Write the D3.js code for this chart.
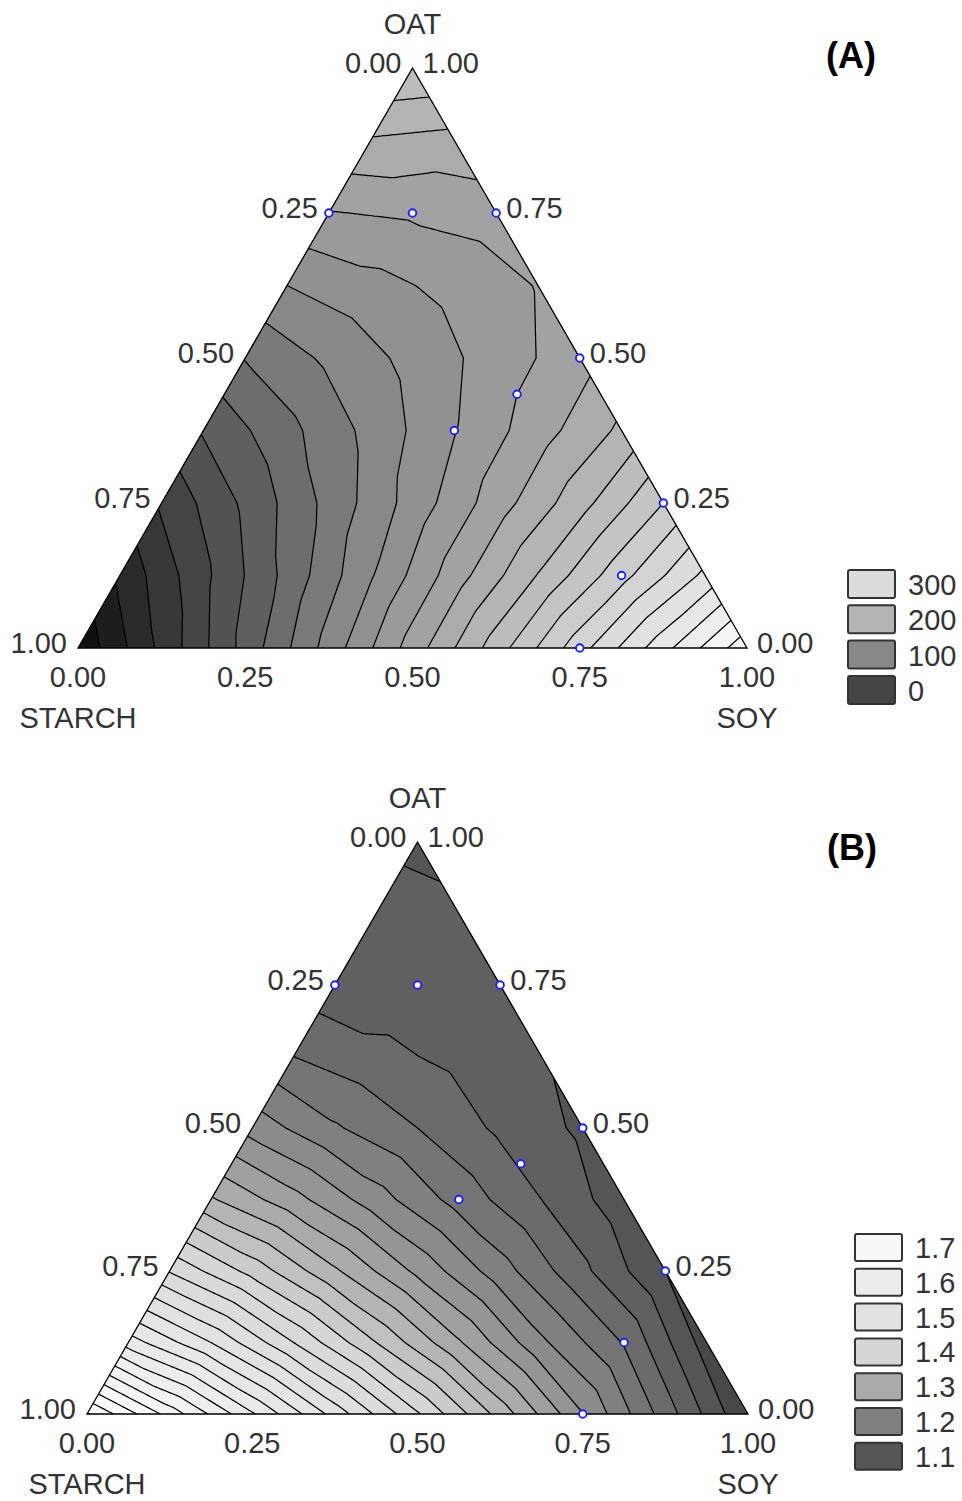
<!DOCTYPE html>
<html>
<head>
<meta charset="utf-8">
<script src="https://cdn.jsdelivr.net/npm/d3@7"></script>
<style>
  body { margin: 0; background: #fff; }
  svg text { font-family: "Liberation Sans", Arial, sans-serif; }
</style>
</head>
<body>
<div id="chart"></div>
<script>
// tick positions and labels on each side of the triangles
const tickFractions = [0, 0.25, 0.5, 0.75, 1];
const tickText = ["0.00", "0.25", "0.50", "0.75", "1.00"];

// mixture design points (same in both panels)
const designStarch = [0.25, 0.125, 0, 0, 0.125, 0.25, 0, 0.125, 0.25];
const designOat    = [0.75, 0.75, 0.75, 0.5, 0.4375, 0.375, 0.25, 0.125, 0];
const designSoy    = [0, 0.125, 0.25, 0.5, 0.4375, 0.375, 0.75, 0.75, 0.75];

// response surface on a lattice of step 1/8
// one row per oat share (0 -> 1), columns = soy share from 0 upward
const gridA = [
  [-76, -15, 47, 108, 169, 230, 292, 353, 414],
  [-36, 15, 66, 118, 170, 221, 273, 325],
  [3, 44, 86, 128, 170, 212, 260],
  [42, 74, 106, 139, 171, 204],
  [81, 104, 126, 149, 172],
  [120, 133, 146, 161],
  [159, 163, 169],
  [198, 193],
  [238]
];
const gridB = [
  [1.778, 1.690, 1.603, 1.515, 1.428, 1.340, 1.251, 1.163, 1.076],
  [1.588, 1.525, 1.450, 1.375, 1.303, 1.230, 1.173, 1.088],
  [1.448, 1.391, 1.329, 1.269, 1.211, 1.156, 1.100],
  [1.328, 1.284, 1.236, 1.190, 1.150, 1.110],
  [1.240, 1.203, 1.175, 1.145, 1.120],
  [1.175, 1.1575, 1.143, 1.127],
  [1.134, 1.1325, 1.135],
  [1.135, 1.129],
  [1.120]
];

// contour levels
const levelsA = d3.range(-3, 21).map(k => k * 20);
const levelsB = d3.range(44, 72).map(k => k * 0.025);

// legend entries
const legendA = [300, 200, 100, 0];
const legendB = [1.7, 1.6, 1.5, 1.4, 1.3, 1.2, 1.1];

const shadeA = d3.scaleLinear()
    .domain([-80, 0, 100, 200, 300, 400])
    .range([16, 68, 136, 180, 220, 250])
    .clamp(true);
const shadeB = d3.scaleLinear()
    .domain([1.075, 1.1, 1.2, 1.3, 1.4, 1.5, 1.6, 1.7, 1.775])
    .range([72, 85, 128, 170, 214, 226, 236, 248, 252])
    .clamp(true);

function grey(v) {
  const g = Math.round(v);
  return d3.rgb(g, g, g).formatHex();
}

// linear interpolation inside the lattice triangles
function fieldAt(grid, a, b) {
  const n = grid.length - 1;
  a = Math.max(0, a);
  b = Math.max(0, b);
  if (a + b > n) { const f = n / (a + b) * (1 - 1e-9); a *= f; b *= f; }
  const i = Math.min(Math.floor(a), n - 1);
  const k = Math.min(Math.floor(b), n - 1 - i);
  const fa = a - i, fb = b - k;
  if (fa + fb <= 1 || i + k >= n - 1) {
    return grid[i][k] * (1 - fa - fb) + grid[i + 1][k] * fa + grid[i][k + 1] * fb;
  }
  return grid[i + 1][k + 1] * (fa + fb - 1) + grid[i + 1][k] * (1 - fb) + grid[i][k + 1] * (1 - fa);
}

const svg = d3.select('#chart')
    .append('svg')
    .attr('width', 962)
    .attr('height', 1501);

const defs = svg.append('defs');

function drawPanel(p) {
  const g = svg.append('g');

  // x follows soy + oat/2, y follows oat
  const xs = d3.scaleLinear().domain([0, 1]).range([p.left, p.right]);
  const ys = d3.scaleLinear().domain([0, 1]).range([p.base, p.top]);
  const pos = (oat, soy) => [xs(soy + oat / 2), ys(oat)];

  // sample the surface on a pixel grid
  const n = p.grid.length - 1;
  const res = 2, pad = 4;
  const x0 = p.left - pad, y0 = p.top - pad;
  const nx = Math.ceil((p.right - p.left + 2 * pad) / res) + 1;
  const ny = Math.ceil((p.base - p.top + 2 * pad) / res) + 1;
  const values = new Float64Array(nx * ny);
  for (let j = 0; j < ny; j++) {
    const oat = ys.invert(y0 + j * res);
    for (let i = 0; i < nx; i++) {
      const soy = xs.invert(x0 + i * res) - oat / 2;
      values[j * nx + i] = fieldAt(p.grid, oat * n, soy * n);
    }
  }
  const contours = d3.contours().size([nx, ny]).thresholds(p.levels)(values);
  const path = d3.geoPath(d3.geoIdentity().scale(res).translate([x0 - res / 2, y0 - res / 2]));

  const tri = [pos(0, 0), pos(1, 0), pos(0, 1)];
  defs.append('clipPath').attr('id', 'clip' + p.name)
    .append('polygon').attr('points', tri.join(' '));

  const body = g.append('g').attr('clip-path', 'url(#clip' + p.name + ')');
  body.append('polygon')
      .attr('points', tri.join(' '))
      .attr('fill', grey(p.shade(p.floor)));
  body.selectAll('path.band')
    .data(contours)
    .join('path')
      .attr('class', 'band')
      .attr('d', path)
      .attr('fill', d => grey(p.shade(d.value)));
  body.selectAll('path.line')
    .data(contours)
    .join('path')
      .attr('class', 'line')
      .attr('d', path)
      .attr('fill', 'none')
      .attr('stroke', '#000')
      .attr('stroke-width', 1.25);

  g.append('polygon')
      .attr('points', tri.join(' '))
      .attr('fill', 'none')
      .attr('stroke', '#000')
      .attr('stroke-width', 1.3);

  // design points
  g.selectAll('circle')
    .data(designOat.map((o, i) => ({ starch: designStarch[i], oat: o, soy: designSoy[i] })))
    .join('circle')
      .attr('cx', d => pos(d.oat, d.soy)[0])
      .attr('cy', d => pos(d.oat, d.soy)[1])
      .attr('r', 3.8)
      .attr('fill', '#fff')
      .attr('stroke', '#2020ff')
      .attr('stroke-width', 1.9);

  const txt = g.append('g').attr('fill', '#333').style('font-size', '29px');
  // left side: starch share (1 at bottom)
  txt.selectAll('text.left')
    .data(tickFractions)
    .join('text')
      .attr('class', 'left')
      .attr('x', f => pos(1 - f, 0)[0] - 11)
      .attr('y', f => pos(1 - f, 0)[1] + 5)
      .attr('text-anchor', 'end')
      .text((f, i) => tickText[i]);
  // right side: oat share
  txt.selectAll('text.right')
    .data(tickFractions)
    .join('text')
      .attr('class', 'right')
      .attr('x', f => pos(f, 1 - f)[0] + 10)
      .attr('y', f => pos(f, 1 - f)[1] + 5)
      .text((f, i) => tickText[i]);
  // bottom: soy share
  txt.selectAll('text.bottom')
    .data(tickFractions)
    .join('text')
      .attr('class', 'bottom')
      .attr('x', f => pos(0, f)[0])
      .attr('y', p.base + 39)
      .attr('text-anchor', 'middle')
      .text((f, i) => tickText[i]);

  txt.append('text').attr('x', tri[1][0]).attr('y', p.top - 34)
      .attr('text-anchor', 'middle').text('OAT');
  txt.append('text').attr('x', tri[0][0]).attr('y', p.base + 80)
      .attr('text-anchor', 'middle').text('STARCH');
  txt.append('text').attr('x', tri[2][0]).attr('y', p.base + 80)
      .attr('text-anchor', 'middle').text('SOY');

  g.append('text')
      .attr('x', p.tag[0]).attr('y', p.tag[1])
      .attr('text-anchor', 'middle')
      .style('font-size', '36px').style('font-weight', 'bold')
      .attr('fill', '#000')
      .text(p.label);

  // legend
  const ly = d3.scalePoint()
      .domain(p.legend)
      .range([p.legendTop, p.legendTop + (p.legend.length - 1) * p.legendStep]);
  const item = g.selectAll('g.key')
    .data(p.legend)
    .join('g')
      .attr('class', 'key')
      .attr('transform', d => 'translate(' + p.legendX + ',' + ly(d) + ')');
  item.append('rect')
      .attr('width', 47).attr('height', p.legendH)
      .attr('rx', 2)
      .attr('fill', d => grey(p.shade(d)))
      .attr('stroke', '#333')
      .attr('stroke-width', 2);
  item.append('text')
      .attr('x', 60).attr('y', p.legendH - 3)
      .attr('fill', '#333')
      .style('font-size', '29px')
      .text(d => d);
}

drawPanel({
  name: 'A', label: '(A)', tag: [851, 68],
  left: 78, right: 747, base: 648, top: 68,
  grid: gridA, levels: levelsA, floor: -80, shade: shadeA,
  legend: legendA, legendX: 848, legendTop: 570, legendStep: 35.3, legendH: 28
});

drawPanel({
  name: 'B', label: '(B)', tag: [852, 860],
  left: 87, right: 748, base: 1414, top: 842,
  grid: gridB, levels: levelsB, floor: 1.075, shade: shadeB,
  legend: legendB, legendX: 855, legendTop: 1234, legendStep: 34.8, legendH: 27
});
</script>
</body>
</html>
